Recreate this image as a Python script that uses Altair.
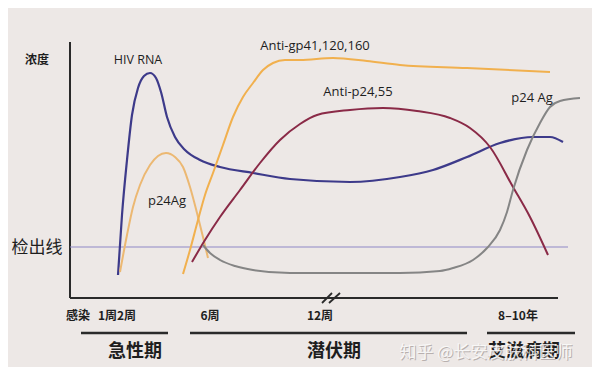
import altair as alt
import pandas as pd

# ---- data (time in arbitrary units 0-102, level in arbitrary units 0-102) ----
hiv_t = [9.6, 10.4, 11.4, 12.4, 13.6, 14.8, 16.0, 17.2, 18.2, 19.4, 21.0, 23.0, 26.0, 30.0, 36.6, 44.0, 56.0, 66.0, 72.6, 79.4, 86.0, 92.6, 96.0, 98.6]
hiv_v = [9.2, 33.2, 55.2, 73.2, 84.0, 88.8, 90.0, 88.0, 82.4, 72.4, 64.4, 59.2, 55.2, 52.4, 50.0, 47.6, 46.4, 48.4, 51.2, 56.4, 62.0, 64.4, 64.4, 62.4]

p24a_t = [10.0, 11.4, 12.6, 14.0, 16.0, 17.6, 19.2, 21.0, 22.6, 24.0, 25.4, 26.6, 27.6]
p24a_v = [10.4, 25.2, 36.4, 45.2, 53.2, 56.8, 58.0, 56.4, 52.4, 44.4, 34.0, 24.4, 16.0]

gp_t = [22.6, 24.0, 25.6, 27.0, 28.6, 30.6, 32.6, 34.6, 36.6, 38.6, 40.6, 43.0, 46.0, 52.6, 59.4, 66.0, 79.4, 96.0]
gp_v = [9.6, 19.2, 31.2, 41.2, 50.0, 61.2, 72.4, 80.4, 86.0, 91.2, 94.0, 95.2, 95.2, 96.0, 94.8, 93.2, 92.0, 90.4]

p2455_t = [24.4, 27.0, 30.0, 34.0, 38.0, 42.0, 46.0, 49.4, 56.0, 62.6, 69.4, 76.0, 80.0, 84.0, 88.6, 92.0, 95.6]
p2455_v = [14.4, 23.2, 32.4, 43.2, 54.0, 63.2, 69.6, 73.2, 75.2, 76.0, 74.8, 72.0, 68.0, 60.4, 44.4, 32.4, 17.2]

p24b_t = [26.6, 28.0, 30.0, 33.0, 36.6, 44.0, 56.0, 66.0, 74.0, 76.6, 80.6, 83.4, 86.0, 87.4, 88.6, 91.4, 94.0, 96.0, 98.0, 102.0]
p24b_v = [21.2, 18.0, 15.2, 12.8, 11.2, 10.0, 10.0, 10.0, 10.8, 12.0, 15.2, 20.0, 27.2, 34.4, 43.2, 59.2, 70.0, 76.4, 78.8, 80.0]

detect_level = 20.4

series = [
    ("HIV RNA", hiv_t, hiv_v, "#3d3a8a", 2.2),
    ("p24Ag", p24a_t, p24a_v, "#ecb872", 2.0),
    ("Anti-gp41,120,160", gp_t, gp_v, "#f1b04e", 2.0),
    ("Anti-p24,55", p2455_t, p2455_v, "#8a2a47", 2.0),
    ("p24 Ag", p24b_t, p24b_v, "#858585", 2.0),
]

CJK = "Noto Sans CJK SC"
LAT = "Open Sans"

# annotation text: label, t, level, size, weight, font
labels = [
    ("浓度", -6.6, 95.2, 12, "bold", CJK),
    ("HIV RNA", 13.6, 95.2, 12.5, "normal", LAT),
    ("Anti-gp41,120,160", 49.0, 100.8, 13, "normal", LAT),
    ("Anti-p24,55", 57.6, 82.4, 13, "normal", LAT),
    ("p24 Ag", 92.4, 80.0, 13, "normal", LAT),
    ("p24Ag", 19.4, 38.8, 13, "normal", LAT),
    ("检出线", -6.6, 20.0, 17, "normal", CJK),
    ("感染", 1.6, -7.2, 12, "bold", CJK),
    ("1周2周", 9.4, -7.2, 12, "bold", CJK),
    ("6周", 28.0, -7.2, 12, "bold", CJK),
    ("12周", 50.0, -7.2, 12, "bold", CJK),
    ("8–10年", 89.6, -7.2, 12, "bold", CJK),
    ("急性期", 13.0, -21.6, 18, "bold", CJK),
    ("潜伏期", 52.8, -21.6, 18, "bold", CJK),
    ("艾滋病期", 90.8, -21.6, 18, "bold", CJK),
]

phase_t0 = [2.2, 24.0, 83.4]
phase_t1 = [19.6, 79.4, 101.0]
phase_level = -14.0

xs = alt.Scale(domain=[0, 102], nice=False, zero=False)
ys = alt.Scale(domain=[0, 102.4], nice=False, zero=False)

layers = []

# axes drawn as rules
axes_df = pd.DataFrame({"t0": [0, 0], "t1": [0, 97.6], "v0": [0, 0], "v1": [102.4, 0]})
layers.append(
    alt.Chart(axes_df).mark_rule(color="#2a2a2a", strokeWidth=2, clip=False).encode(
        x=alt.X("t0:Q", scale=xs, axis=None),
        x2="t1:Q",
        y=alt.Y("v0:Q", scale=ys, axis=None),
        y2="v1:Q",
    )
)

# axis break marks
brk_df = pd.DataFrame({"t0": [50.4, 51.8], "t1": [52.4, 54.0], "v0": [-2.0, -2.0], "v1": [2.0, 2.0]})
layers.append(
    alt.Chart(brk_df).mark_rule(color="#2a2a2a", strokeWidth=1.8, clip=False).encode(
        x=alt.X("t0:Q", scale=xs), x2="t1:Q",
        y=alt.Y("v0:Q", scale=ys), y2="v1:Q",
    )
)

# detection line
det_df = pd.DataFrame({"t0": [0], "t1": [99.6], "v": [detect_level]})
layers.append(
    alt.Chart(det_df).mark_rule(color="#8f88c6", strokeWidth=1.2).encode(
        x=alt.X("t0:Q", scale=xs), x2="t1:Q", y=alt.Y("v:Q", scale=ys)
    )
)

# phase bars
ph_df = pd.DataFrame({"t0": phase_t0, "t1": phase_t1, "v": [phase_level] * 3})
layers.append(
    alt.Chart(ph_df).mark_rule(color="#2a2a2a", strokeWidth=2.6, clip=False).encode(
        x=alt.X("t0:Q", scale=xs), x2="t1:Q", y=alt.Y("v:Q", scale=ys)
    )
)

# curves
for name, t, v, col, sw in series:
    df = pd.DataFrame({"t": t, "v": v})
    layers.append(
        alt.Chart(df).mark_line(color=col, strokeWidth=sw, interpolate="monotone", clip=False).encode(
            x=alt.X("t:Q", scale=xs), y=alt.Y("v:Q", scale=ys)
        )
    )

# watermark (shadow)
wm_df = pd.DataFrame({"t": [83.2], "v": [-21.8], "s": ["知乎 @长安皮肤科医师"]})
layers.append(
    alt.Chart(wm_df).mark_text(font=CJK, fontSize=17, color="#b8b0ae", dx=1, dy=1, clip=False).encode(
        x=alt.X("t:Q", scale=xs), y=alt.Y("v:Q", scale=ys), text="s:N"
    )
)

# text labels
for s, t, v, size, weight, font in labels:
    df = pd.DataFrame({"t": [t], "v": [v], "s": [s]})
    layers.append(
        alt.Chart(df).mark_text(
            font=font, fontSize=size, fontWeight=weight, color="#1e1e1e", clip=False
        ).encode(x=alt.X("t:Q", scale=xs), y=alt.Y("v:Q", scale=ys), text="s:N")
    )

# watermark (front)
layers.append(
    alt.Chart(wm_df).mark_text(font=CJK, fontSize=17, color="#fbfbfb", opacity=0.85, clip=False).encode(
        x=alt.X("t:Q", scale=xs), y=alt.Y("v:Q", scale=ys), text="s:N"
    )
)

chart = alt.layer(*layers).properties(
    width=510,
    height=256,
    background="#ede8e6",
    padding={"left": 62, "top": 34, "right": 12, "bottom": 69},
    autosize=alt.AutoSizeParams(type="none"),
).configure_view(stroke=None)

chart.save("out.html", embed_options={"renderer": "svg", "actions": False})
